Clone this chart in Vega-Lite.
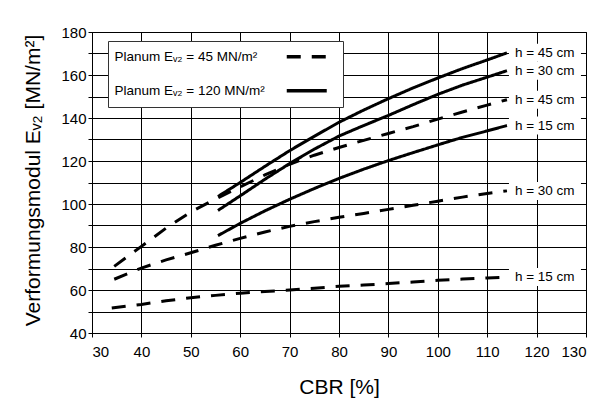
{
  "$schema": "https://vega.github.io/schema/vega-lite/v6.json",
  "autosize": "none",
  "width": 494,
  "height": 301,
  "padding": {"left": 92, "top": 32, "right": 27, "bottom": 78},
  "background": "white",
  "config": {
    "font": "Liberation Sans",
    "view": {"stroke": "black", "strokeWidth": 1},
    "axis": {
      "gridColor": "black",
      "gridOpacity": 1,
      "gridWidth": 1,
      "domainColor": "black",
      "tickColor": "black",
      "tickSize": 4,
      "labelColor": "black",
      "labelFontSize": 15,
      "labelFont": "Liberation Sans",
      "titleFont": "Liberation Sans",
      "titleFontWeight": "normal",
      "titleColor": "black",
      "titleFontSize": 21
    }
  },
  "data": {
    "values": [
      {"planum": "Planum Eᵥ₂ = 45 MN/m²", "h": "h = 45 cm", "cbr": 34.5, "ev2": 71},
      {"planum": "Planum Eᵥ₂ = 45 MN/m²", "h": "h = 45 cm", "cbr": 40, "ev2": 80.3},
      {"planum": "Planum Eᵥ₂ = 45 MN/m²", "h": "h = 45 cm", "cbr": 45, "ev2": 88.8},
      {"planum": "Planum Eᵥ₂ = 45 MN/m²", "h": "h = 45 cm", "cbr": 50, "ev2": 96.3},
      {"planum": "Planum Eᵥ₂ = 45 MN/m²", "h": "h = 45 cm", "cbr": 55, "ev2": 102.3},
      {"planum": "Planum Eᵥ₂ = 45 MN/m²", "h": "h = 45 cm", "cbr": 60, "ev2": 108},
      {"planum": "Planum Eᵥ₂ = 45 MN/m²", "h": "h = 45 cm", "cbr": 65, "ev2": 113.5},
      {"planum": "Planum Eᵥ₂ = 45 MN/m²", "h": "h = 45 cm", "cbr": 70, "ev2": 118.5},
      {"planum": "Planum Eᵥ₂ = 45 MN/m²", "h": "h = 45 cm", "cbr": 75, "ev2": 122.7},
      {"planum": "Planum Eᵥ₂ = 45 MN/m²", "h": "h = 45 cm", "cbr": 80, "ev2": 126.3},
      {"planum": "Planum Eᵥ₂ = 45 MN/m²", "h": "h = 45 cm", "cbr": 85, "ev2": 129.6},
      {"planum": "Planum Eᵥ₂ = 45 MN/m²", "h": "h = 45 cm", "cbr": 90, "ev2": 132.8},
      {"planum": "Planum Eᵥ₂ = 45 MN/m²", "h": "h = 45 cm", "cbr": 95, "ev2": 136},
      {"planum": "Planum Eᵥ₂ = 45 MN/m²", "h": "h = 45 cm", "cbr": 100, "ev2": 139.5},
      {"planum": "Planum Eᵥ₂ = 45 MN/m²", "h": "h = 45 cm", "cbr": 105, "ev2": 142.8},
      {"planum": "Planum Eᵥ₂ = 45 MN/m²", "h": "h = 45 cm", "cbr": 110, "ev2": 146},
      {"planum": "Planum Eᵥ₂ = 45 MN/m²", "h": "h = 45 cm", "cbr": 114, "ev2": 148.5},

      {"planum": "Planum Eᵥ₂ = 45 MN/m²", "h": "h = 30 cm", "cbr": 34.5, "ev2": 65},
      {"planum": "Planum Eᵥ₂ = 45 MN/m²", "h": "h = 30 cm", "cbr": 40, "ev2": 70.2},
      {"planum": "Planum Eᵥ₂ = 45 MN/m²", "h": "h = 30 cm", "cbr": 45, "ev2": 74},
      {"planum": "Planum Eᵥ₂ = 45 MN/m²", "h": "h = 30 cm", "cbr": 50, "ev2": 77.3},
      {"planum": "Planum Eᵥ₂ = 45 MN/m²", "h": "h = 30 cm", "cbr": 55, "ev2": 80.8},
      {"planum": "Planum Eᵥ₂ = 45 MN/m²", "h": "h = 30 cm", "cbr": 60, "ev2": 84},
      {"planum": "Planum Eᵥ₂ = 45 MN/m²", "h": "h = 30 cm", "cbr": 65, "ev2": 87},
      {"planum": "Planum Eᵥ₂ = 45 MN/m²", "h": "h = 30 cm", "cbr": 70, "ev2": 89.6},
      {"planum": "Planum Eᵥ₂ = 45 MN/m²", "h": "h = 30 cm", "cbr": 75, "ev2": 91.8},
      {"planum": "Planum Eᵥ₂ = 45 MN/m²", "h": "h = 30 cm", "cbr": 80, "ev2": 93.8},
      {"planum": "Planum Eᵥ₂ = 45 MN/m²", "h": "h = 30 cm", "cbr": 85, "ev2": 95.6},
      {"planum": "Planum Eᵥ₂ = 45 MN/m²", "h": "h = 30 cm", "cbr": 90, "ev2": 97.5},
      {"planum": "Planum Eᵥ₂ = 45 MN/m²", "h": "h = 30 cm", "cbr": 95, "ev2": 99.4},
      {"planum": "Planum Eᵥ₂ = 45 MN/m²", "h": "h = 30 cm", "cbr": 100, "ev2": 101.3},
      {"planum": "Planum Eᵥ₂ = 45 MN/m²", "h": "h = 30 cm", "cbr": 105, "ev2": 103.2},
      {"planum": "Planum Eᵥ₂ = 45 MN/m²", "h": "h = 30 cm", "cbr": 110, "ev2": 104.9},
      {"planum": "Planum Eᵥ₂ = 45 MN/m²", "h": "h = 30 cm", "cbr": 114, "ev2": 106.1},

      {"planum": "Planum Eᵥ₂ = 45 MN/m²", "h": "h = 15 cm", "cbr": 34, "ev2": 51.6},
      {"planum": "Planum Eᵥ₂ = 45 MN/m²", "h": "h = 15 cm", "cbr": 40, "ev2": 53.3},
      {"planum": "Planum Eᵥ₂ = 45 MN/m²", "h": "h = 15 cm", "cbr": 45, "ev2": 55},
      {"planum": "Planum Eᵥ₂ = 45 MN/m²", "h": "h = 15 cm", "cbr": 50, "ev2": 56.4},
      {"planum": "Planum Eᵥ₂ = 45 MN/m²", "h": "h = 15 cm", "cbr": 55, "ev2": 57.5},
      {"planum": "Planum Eᵥ₂ = 45 MN/m²", "h": "h = 15 cm", "cbr": 60, "ev2": 58.5},
      {"planum": "Planum Eᵥ₂ = 45 MN/m²", "h": "h = 15 cm", "cbr": 65, "ev2": 59.3},
      {"planum": "Planum Eᵥ₂ = 45 MN/m²", "h": "h = 15 cm", "cbr": 70, "ev2": 60},
      {"planum": "Planum Eᵥ₂ = 45 MN/m²", "h": "h = 15 cm", "cbr": 75, "ev2": 60.8},
      {"planum": "Planum Eᵥ₂ = 45 MN/m²", "h": "h = 15 cm", "cbr": 80, "ev2": 61.7},
      {"planum": "Planum Eᵥ₂ = 45 MN/m²", "h": "h = 15 cm", "cbr": 85, "ev2": 62.3},
      {"planum": "Planum Eᵥ₂ = 45 MN/m²", "h": "h = 15 cm", "cbr": 90, "ev2": 63},
      {"planum": "Planum Eᵥ₂ = 45 MN/m²", "h": "h = 15 cm", "cbr": 95, "ev2": 63.7},
      {"planum": "Planum Eᵥ₂ = 45 MN/m²", "h": "h = 15 cm", "cbr": 100, "ev2": 64.5},
      {"planum": "Planum Eᵥ₂ = 45 MN/m²", "h": "h = 15 cm", "cbr": 105, "ev2": 65.1},
      {"planum": "Planum Eᵥ₂ = 45 MN/m²", "h": "h = 15 cm", "cbr": 110, "ev2": 65.6},
      {"planum": "Planum Eᵥ₂ = 45 MN/m²", "h": "h = 15 cm", "cbr": 114, "ev2": 66},

      {"planum": "Planum Eᵥ₂ = 120 MN/m²", "h": "h = 45 cm", "cbr": 55.5, "ev2": 103.5},
      {"planum": "Planum Eᵥ₂ = 120 MN/m²", "h": "h = 45 cm", "cbr": 60, "ev2": 110},
      {"planum": "Planum Eᵥ₂ = 120 MN/m²", "h": "h = 45 cm", "cbr": 65, "ev2": 117.5},
      {"planum": "Planum Eᵥ₂ = 120 MN/m²", "h": "h = 45 cm", "cbr": 70, "ev2": 124.8},
      {"planum": "Planum Eᵥ₂ = 120 MN/m²", "h": "h = 45 cm", "cbr": 75, "ev2": 131.5},
      {"planum": "Planum Eᵥ₂ = 120 MN/m²", "h": "h = 45 cm", "cbr": 80, "ev2": 138},
      {"planum": "Planum Eᵥ₂ = 120 MN/m²", "h": "h = 45 cm", "cbr": 85, "ev2": 143.7},
      {"planum": "Planum Eᵥ₂ = 120 MN/m²", "h": "h = 45 cm", "cbr": 90, "ev2": 149},
      {"planum": "Planum Eᵥ₂ = 120 MN/m²", "h": "h = 45 cm", "cbr": 95, "ev2": 154},
      {"planum": "Planum Eᵥ₂ = 120 MN/m²", "h": "h = 45 cm", "cbr": 100, "ev2": 158.6},
      {"planum": "Planum Eᵥ₂ = 120 MN/m²", "h": "h = 45 cm", "cbr": 105, "ev2": 163},
      {"planum": "Planum Eᵥ₂ = 120 MN/m²", "h": "h = 45 cm", "cbr": 110, "ev2": 167},
      {"planum": "Planum Eᵥ₂ = 120 MN/m²", "h": "h = 45 cm", "cbr": 114, "ev2": 170.3},

      {"planum": "Planum Eᵥ₂ = 120 MN/m²", "h": "h = 30 cm", "cbr": 55.5, "ev2": 97},
      {"planum": "Planum Eᵥ₂ = 120 MN/m²", "h": "h = 30 cm", "cbr": 60, "ev2": 103.8},
      {"planum": "Planum Eᵥ₂ = 120 MN/m²", "h": "h = 30 cm", "cbr": 65, "ev2": 111.5},
      {"planum": "Planum Eᵥ₂ = 120 MN/m²", "h": "h = 30 cm", "cbr": 70, "ev2": 118.8},
      {"planum": "Planum Eᵥ₂ = 120 MN/m²", "h": "h = 30 cm", "cbr": 75, "ev2": 125.5},
      {"planum": "Planum Eᵥ₂ = 120 MN/m²", "h": "h = 30 cm", "cbr": 80, "ev2": 131.6},
      {"planum": "Planum Eᵥ₂ = 120 MN/m²", "h": "h = 30 cm", "cbr": 85, "ev2": 136.5},
      {"planum": "Planum Eᵥ₂ = 120 MN/m²", "h": "h = 30 cm", "cbr": 90, "ev2": 141.2},
      {"planum": "Planum Eᵥ₂ = 120 MN/m²", "h": "h = 30 cm", "cbr": 95, "ev2": 146.2},
      {"planum": "Planum Eᵥ₂ = 120 MN/m²", "h": "h = 30 cm", "cbr": 100, "ev2": 151},
      {"planum": "Planum Eᵥ₂ = 120 MN/m²", "h": "h = 30 cm", "cbr": 105, "ev2": 155.3},
      {"planum": "Planum Eᵥ₂ = 120 MN/m²", "h": "h = 30 cm", "cbr": 110, "ev2": 159},
      {"planum": "Planum Eᵥ₂ = 120 MN/m²", "h": "h = 30 cm", "cbr": 114, "ev2": 162},

      {"planum": "Planum Eᵥ₂ = 120 MN/m²", "h": "h = 15 cm", "cbr": 55.5, "ev2": 85.3},
      {"planum": "Planum Eᵥ₂ = 120 MN/m²", "h": "h = 15 cm", "cbr": 60, "ev2": 91},
      {"planum": "Planum Eᵥ₂ = 120 MN/m²", "h": "h = 15 cm", "cbr": 65, "ev2": 96.8},
      {"planum": "Planum Eᵥ₂ = 120 MN/m²", "h": "h = 15 cm", "cbr": 70, "ev2": 102.2},
      {"planum": "Planum Eᵥ₂ = 120 MN/m²", "h": "h = 15 cm", "cbr": 75, "ev2": 107.2},
      {"planum": "Planum Eᵥ₂ = 120 MN/m²", "h": "h = 15 cm", "cbr": 80, "ev2": 111.9},
      {"planum": "Planum Eᵥ₂ = 120 MN/m²", "h": "h = 15 cm", "cbr": 85, "ev2": 116.2},
      {"planum": "Planum Eᵥ₂ = 120 MN/m²", "h": "h = 15 cm", "cbr": 90, "ev2": 120.2},
      {"planum": "Planum Eᵥ₂ = 120 MN/m²", "h": "h = 15 cm", "cbr": 95, "ev2": 123.9},
      {"planum": "Planum Eᵥ₂ = 120 MN/m²", "h": "h = 15 cm", "cbr": 100, "ev2": 127.5},
      {"planum": "Planum Eᵥ₂ = 120 MN/m²", "h": "h = 15 cm", "cbr": 105, "ev2": 131},
      {"planum": "Planum Eᵥ₂ = 120 MN/m²", "h": "h = 15 cm", "cbr": 110, "ev2": 134},
      {"planum": "Planum Eᵥ₂ = 120 MN/m²", "h": "h = 15 cm", "cbr": 114, "ev2": 136.5}
    ]
  },
  "encoding": {
    "x": {
      "field": "cbr",
      "type": "quantitative",
      "scale": {"domain": [30, 130], "nice": false, "zero": false},
      "axis": {
        "title": "CBR [%]",
        "values": [30, 40, 50, 60, 70, 80, 90, 100, 110, 120, 130],
        "labelPadding": 7,
        "titleX": 247,
        "titleY": 54,
        "titleAlign": "center",
        "titleBaseline": "middle"
      }
    },
    "y": {
      "field": "ev2",
      "type": "quantitative",
      "scale": {"domain": [40, 180], "nice": false, "zero": false},
      "axis": {
        "title": "Verformungsmodul Eᵥ₂ [MN/m²]",
        "values": [40, 50, 60, 70, 80, 90, 100, 110, 120, 130, 140, 150, 160, 170, 180],
        "labelExpr": "datum.value % 20 == 0 ? datum.label : ''",
        "labelPadding": 2,
        "titleAngle": -90,
        "titleX": -59,
        "titleY": 148,
        "titleAlign": "center",
        "titleBaseline": "middle"
      }
    }
  },
  "layer": [
    {
      "transform": [{"filter": "datum.cbr == 114"}],
      "mark": {
        "type": "point",
        "shape": "M 0.1 -0.45 L 3.7 -0.45 L 3.7 0.45 L 0.1 0.45 Z",
        "size": 1600,
        "filled": true,
        "fill": "white",
        "fillOpacity": 1,
        "opacity": 1,
        "strokeWidth": 0
      },
      "encoding": {}
    },
    {
      "mark": {"type": "line", "color": "black", "strokeWidth": 3, "strokeCap": "butt"},
      "encoding": {
        "detail": {"field": "h", "type": "nominal"},
        "strokeDash": {
          "field": "planum",
          "type": "nominal",
          "scale": {
            "domain": ["Planum Eᵥ₂ = 45 MN/m²", "Planum Eᵥ₂ = 120 MN/m²"],
            "range": [[14, 11], [1, 0]]
          },
          "legend": {
            "title": null,
            "orient": "none",
            "legendX": 16,
            "legendY": 9,
            "direction": "vertical",
            "fillColor": "white",
            "strokeColor": "#333333",
            "padding": 9,
            "rowPadding": 19,
            "labelFontSize": 13.5,
            "labelFont": "Liberation Sans",
            "labelColor": "black",
            "labelOffset": -16,
            "labelLimit": 300,
            "symbolType": "M 163 0 H 203",
            "symbolSize": 4,
            "symbolStrokeWidth": 3.5,
            "symbolStrokeColor": "black"
          }
        }
      }
    },
    {
      "transform": [{"filter": "datum.cbr == 114"}],
      "mark": {
        "type": "text",
        "align": "left",
        "baseline": "middle",
        "dx": 8,
        "fontSize": 13.5,
        "font": "Liberation Sans",
        "color": "black"
      },
      "encoding": {
        "text": {"field": "h", "type": "nominal"},
        "detail": {"field": "planum", "type": "nominal"}
      }
    }
  ]
}
